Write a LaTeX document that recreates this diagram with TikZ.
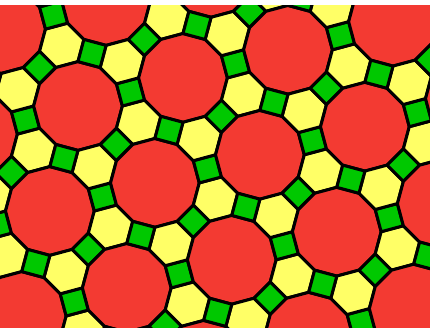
\documentclass[tikz,border=0pt]{standalone}
\usepackage{tikz}
\usepackage{xcolor}
\usetikzlibrary{calc}
\definecolor{cRed}{RGB}{243,58,50}
\definecolor{cYellow}{RGB}{255,255,102}
\definecolor{cGreen}{RGB}{0,200,0}
\tikzset{
	tile/.style    ={draw=black, line width=3pt, line join=round},
	dodeca/.style  ={tile, fill=cRed},
	hexa/.style    ={tile, fill=cYellow},
	quad/.style    ={tile, fill=cGreen},
}
\begin{document}
\begin{tikzpicture}[x=1pt, y=-1pt]
	\useasboundingbox (0,0) rectangle (430,327);
	\clip (0,5) rectangle (430,327);
	% one dodecagon with its two hexagons and three squares per lattice point
	\foreach \i in {-3,...,5}{
		\foreach \j in {-3,...,5}{
			\pgfmathsetmacro\cx{78+105*\i+76.9*\j}
			\pgfmathsetmacro\cy{106-28.1*\i+76.9*\j}
			\begin{scope}[shift={(\cx,\cy)}]
				% dodecagon
				\filldraw[dodeca] (0:44.37) \foreach \k in {1,...,11}{ -- (\k*30:44.37)} -- cycle;
				% hexagons
				\foreach \t in {15,75}{
					\begin{scope}[shift={(\t:62.76)}]
						\filldraw[hexa] (45:22.97) \foreach \k in {1,...,5}{ -- (45+\k*60:22.97)} -- cycle;
					\end{scope}
				}
				% squares
				\foreach \t/\p in {345/30,45/0,105/60}{
					\begin{scope}[shift={(\t:54.35)}]
						\filldraw[quad] (\p:16.24) -- (\p+90:16.24) -- (\p+180:16.24) -- (\p+270:16.24) -- cycle;
					\end{scope}
				}
			\end{scope}
		}
	}
\end{tikzpicture}
\end{document}
